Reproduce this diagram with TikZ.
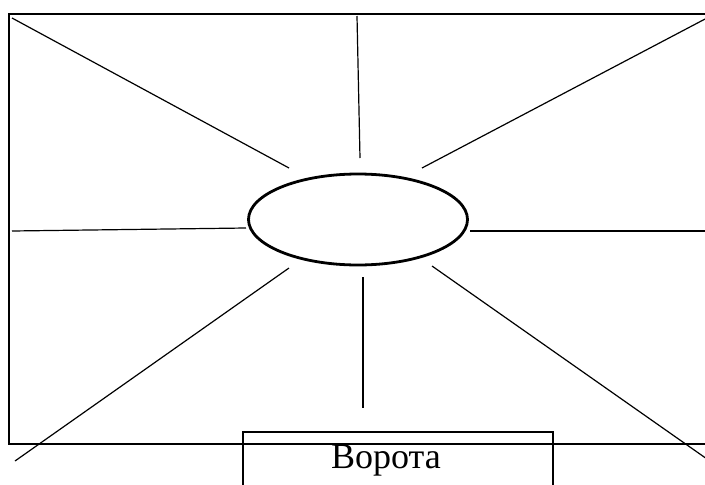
\documentclass[tikz,border=0pt]{standalone}
\usepackage{fontspec}
\setmainfont{Liberation Serif}
\usetikzlibrary{shapes.geometric}

\begin{document}
\begin{tikzpicture}[x=1pt, y=-1pt,
    spoke/.style={line width=1.2pt},
    hubshape/.style={ellipse, draw, line width=2.8pt, minimum width=219pt, minimum height=91pt, inner sep=0pt},
    gatebox/.style={rectangle, draw, line width=2.3pt, minimum width=310pt, minimum height=76pt, inner sep=0pt}]
        \useasboundingbox (0,0) rectangle (705,485);
        \clip (0,0) rectangle (705,485);
        % yard
        \draw[line width=2.5pt] (9,14) rectangle (730,444);
        \node[hubshape] (hub) at (358,219.5) {};
        \node[gatebox] (gate) at (398,470) {};
        \node[anchor=base, font=\fontsize{36}{40}\selectfont, inner sep=0pt] (gatelabel) at (386,468) {Ворота};

        % spokes
        \coordinate (nw1) at (12,18);    \coordinate (nw2) at (289,168);
        \coordinate (n1) at (357,16);    \coordinate (n2) at (360,158);
        \coordinate (ne1) at (707,18);   \coordinate (ne2) at (422,168);
        \coordinate (w1) at (12,231);    \coordinate (w2) at (246,228);
        \coordinate (e1) at (470,231);   \coordinate (e2) at (707,231);
        \coordinate (sw1) at (15,461);   \coordinate (sw2) at (289,268);
        \coordinate (s1) at (363,277);   \coordinate (s2) at (363,408);
        \coordinate (se1) at (432,266);  \coordinate (se2) at (707,459);

        \draw[spoke] (nw1) -- (nw2);
        \draw[spoke] (n1) -- (n2);
        \draw[spoke] (ne1) -- (ne2);
        \draw[spoke] (w1) -- (w2);
        \draw[spoke] (e1) -- (e2);
        \draw[spoke] (sw1) -- (sw2);
        \draw[spoke] (s1) -- (s2);
        \draw[spoke] (se1) -- (se2);
\end{tikzpicture}
\end{document}
